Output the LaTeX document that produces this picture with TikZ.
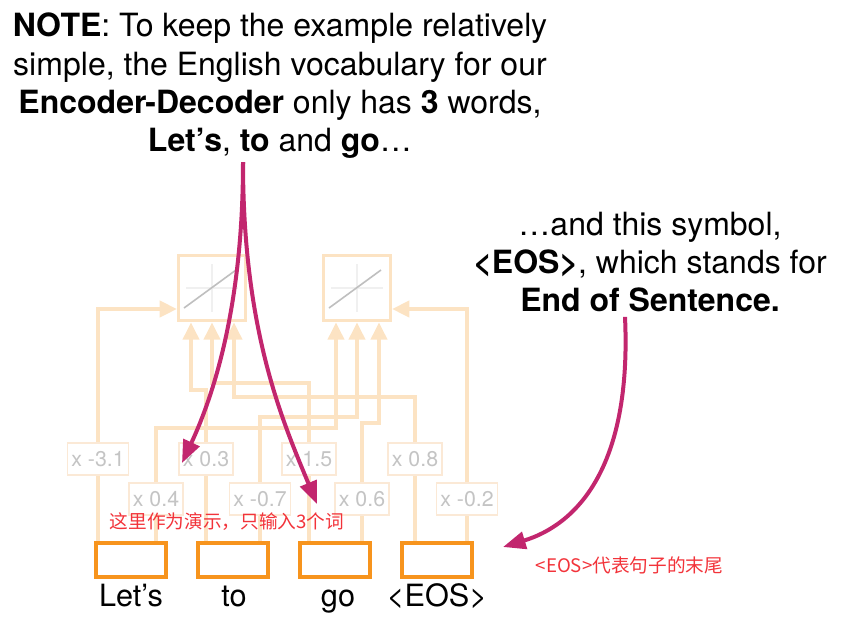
\documentclass[tikz,border=0pt]{standalone}
\usepackage{fontspec}
\setmainfont{TeX Gyre Heros}
\newfontfamily\cjk{Noto Sans CJK SC}
\usetikzlibrary{positioning,arrows.meta,calc}
\definecolor{fadeline}{HTML}{FCE3C3}
\definecolor{fadebox}{HTML}{FBE9D6}
\definecolor{fadegray}{HTML}{C4C4C4}
\definecolor{tokorange}{HTML}{F7941D}
\definecolor{pointmag}{HTML}{C2266E}
\definecolor{notered}{HTML}{F2333A}

\begin{document}
\begin{tikzpicture}[
  x=0.75pt, y=-0.75pt,
  token/.style={draw=tokorange, line width=3pt, minimum width=53pt, minimum height=26pt},
  word/.style={anchor=base, font=\fontsize{23}{26}\selectfont},
  weight/.style={draw=fadebox, line width=1.2pt, fill=white, text=fadegray, minimum height=24pt,
                 inner xsep=3pt, font=\fontsize{16}{18}\selectfont},
  act/.style={draw=fadeline, line width=2.5pt, fill=white, minimum width=50pt, minimum height=49pt},
  wire/.style={draw=fadeline, line width=3pt},
  feed/.style={wire, -{Triangle[length=13pt, width=12pt]}},
  point/.style={draw=pointmag, line width=3pt, -{Triangle[length=17pt, width=13pt]}},
  talk/.style={align=center, font=\fontsize{24}{28.7}\selectfont},
  memo/.style={text=notered, anchor=west, font=\cjk\fontsize{14}{17}\selectfont}
]
  \useasboundingbox (0,0) rectangle (846,626);

  % activation functions
  \node[act] (actA) at (212,288) {};
  \node[act] (actB) at (357,288) {};
  \foreach \a in {actA, actB} {
    \draw[black!6, line width=0.8pt] ($(\a)+(0,-24)$) -- ($(\a)+(0,24)$);
    \draw[black!6, line width=0.8pt] ($(\a)+(-26,0)$) -- ($(\a)+(26,0)$);
    \draw[black!25, line width=1.2pt] ($(\a)+(-28,20)$) -- ($(\a)+(24,-18)$);
  }

  % input tokens
  \node[token] (in1) at (131,560) {};
  \node[token] (in2) at (233,560) {};
  \node[token] (in3) at (335,560) {};
  \node[token] (in4) at (437,560) {};
  \node[word] (lab1) at (131,606) {Let’s};
  \node[word] (lab2) at (234,606) {to};
  \node[word] (lab3) at (338,606) {go};
  \node[word] (lab4) at (437,606) {<EOS>};

  % weights
  \node[weight] (wA1) at (98,459) {x -3.1};
  \node[weight] (wA2) at (206,459) {x 0.3};
  \node[weight] (wA3) at (309,459) {x 1.5};
  \node[weight] (wA4) at (415,459) {x 0.8};
  \node[weight] (wB1) at (156,499) {x 0.4};
  \node[weight] (wB2) at (260,499) {x -0.7};
  \node[weight] (wB3) at (362,499) {x 0.6};
  \node[weight] (wB4) at (467,499) {x -0.2};

  \draw[wire] (in1.north -| wA1) -- (wA1.south);
  \draw[wire] (in1.north -| wB1) -- (wB1.south);
  \draw[wire] (in2.north -| wA2) -- (wA2.south);
  \draw[wire] (in2.north -| wB2) -- (wB2.south);
  \draw[wire] (in3.north -| wA3) -- (wA3.south);
  \draw[wire] (in3.north -| wB3) -- (wB3.south);
  \draw[wire] (in4.north -| wA4) -- (wA4.south);
  \draw[wire] (in4.north -| wB4) -- (wB4.south);

  \draw[feed] (wA1.north) |- (actA.west |- 0,309);
  \draw[feed] (wA2.north) -- (206,390) -- (191,390) -- (actA.south -| 191,0);
  \draw[feed] (wA3.north) -- (309,383) -- (212,383) -- (actA.south);
  \draw[feed] (wA4.north) -- (415,397) -- (234,397) -- (actA.south -| 234,0);
  \draw[feed] (wB1.north) -- (156,428) -- (336,428) -- (actB.south -| 336,0);
  \draw[feed] (wB2.north) -- (260,417) -- (357,417) -- (actB.south);
  \draw[feed] (wB3.north) -- (362,423) -- (379,423) -- (actB.south -| 379,0);
  \draw[feed] (wB4.north) |- (actB.east |- 0,309);

  % notes
  \node[talk] (vocab) at (280,86) {\textbf{NOTE}: To keep the example relatively\\
    simple, the English vocabulary for our\\
    \textbf{Encoder-Decoder} only has \textbf{3} words,\\
    \textbf{Let’s}, \textbf{to} and \textbf{go}…};
  \node[talk] (eosnote) at (650,262) {…and this symbol,\\
    \textbf{<EOS>}, which stands for\\
    \textbf{End of Sentence.}};
  \node[memo] (demo) at (105,522) {这里作为演示，只输入3个词};
  \node[memo] (eosmemo) at (531,565) {<EOS>代表句子的末尾};

  \coordinate (fork) at (243,162);
  \coordinate (tipA) at (182,463);
  \coordinate (tipB) at (317,504);
  \coordinate (tipC) at (503,547);
  \draw[point] (fork) .. controls (243,300) and (216,390) .. (tipA);
  \draw[point] (fork) .. controls (243,330) and (282,420) .. (tipB);
  \draw[point] (eosnote.south -| 625,0) .. controls (632,470) and (575,525) .. (tipC);
\end{tikzpicture}
\end{document}
